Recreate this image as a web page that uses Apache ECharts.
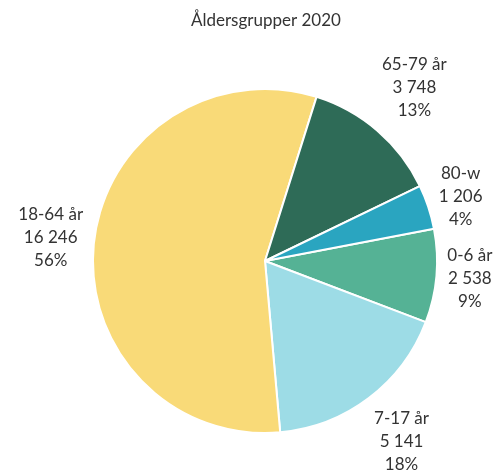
<!DOCTYPE html>
<html>
<head>
<meta charset="utf-8">
<script src="https://cdn.jsdelivr.net/npm/echarts@6/dist/echarts.min.js"></script>
<style>
  html, body { margin: 0; padding: 0; background: #fff; }
  #chart { width: 501px; height: 475px; }
</style>
</head>
<body>
<div id="chart"></div>
<script>
// Population by age group, 2020
const categories = ['0-6 år', '7-17 år', '18-64 år', '65-79 år', '80-w'];
const counts = [2538, 5141, 16246, 3748, 1206];
const colors = ['#55b295', '#9ddce6', '#f9da78', '#2e6b57', '#2aa5c0'];
const titleText = 'Åldersgrupper 2020';

const FONT = 'Lato, "Open Sans", sans-serif';
const CENTER = [265, 261];
const RADIUS = 172;
const START_ANGLE = 10.8;   // degrees, counter-clockwise from 3 o'clock
const LABEL_GAP = 11;

const total = counts.reduce((a, b) => a + b, 0);
const fmtThousands = v => String(v).replace(/\B(?=(\d{3})+(?!\d))/g, ' ');

// mid-angle (radians, screen coords) of each slice, used to place labels just outside the rim
const midAngles = [];
{
  let acc = 0;
  counts.forEach(v => {
    const a0 = START_ANGLE - acc / total * 360;
    const a1 = START_ANGLE - (acc + v) / total * 360;
    midAngles.push(((a0 + a1) / 2) * Math.PI / 180);
    acc += v;
  });
}

const chart = echarts.init(document.getElementById('chart'), null, { renderer: 'canvas' });

chart.setOption({
  animation: false,
  title: {
    text: titleText,
    left: 186,
    top: 7,
    textStyle: { fontFamily: FONT, fontSize: 17, fontWeight: 'normal', color: '#333' }
  },
  series: [{
    type: 'pie',
    center: CENTER,
    radius: RADIUS,
    startAngle: START_ANGLE,
    clockwise: true,
    avoidLabelOverlap: false,
    itemStyle: { borderColor: '#fff', borderWidth: 2 },
    label: {
      show: true,
      position: 'outside',
      fontFamily: FONT,
      fontSize: 17,
      lineHeight: 23,
      color: '#333',
      align: 'center',
      formatter: p => p.name + '\n' + fmtThousands(p.value) + '\n' + Math.round(p.value / total * 100) + '%'
    },
    labelLine: { show: false },
    labelLayout: params => {
      const ang = midAngles[params.dataIndex];
      const ux = Math.cos(ang), uy = -Math.sin(ang);
      const hw = params.labelRect.width / 2, hh = params.labelRect.height / 2;
      const reach = Math.min(
        Math.abs(ux) > 1e-6 ? hw / Math.abs(ux) : Infinity,
        Math.abs(uy) > 1e-6 ? hh / Math.abs(uy) : Infinity
      );
      const d = RADIUS + LABEL_GAP + reach;
      return {
        x: CENTER[0] + ux * d,
        y: CENTER[1] + uy * d,
        align: 'center',
        verticalAlign: 'middle'
      };
    },
    data: categories.map((name, i) => ({
      name,
      value: counts[i],
      itemStyle: { color: colors[i] }
    }))
  }]
});
</script>
</body>
</html>
